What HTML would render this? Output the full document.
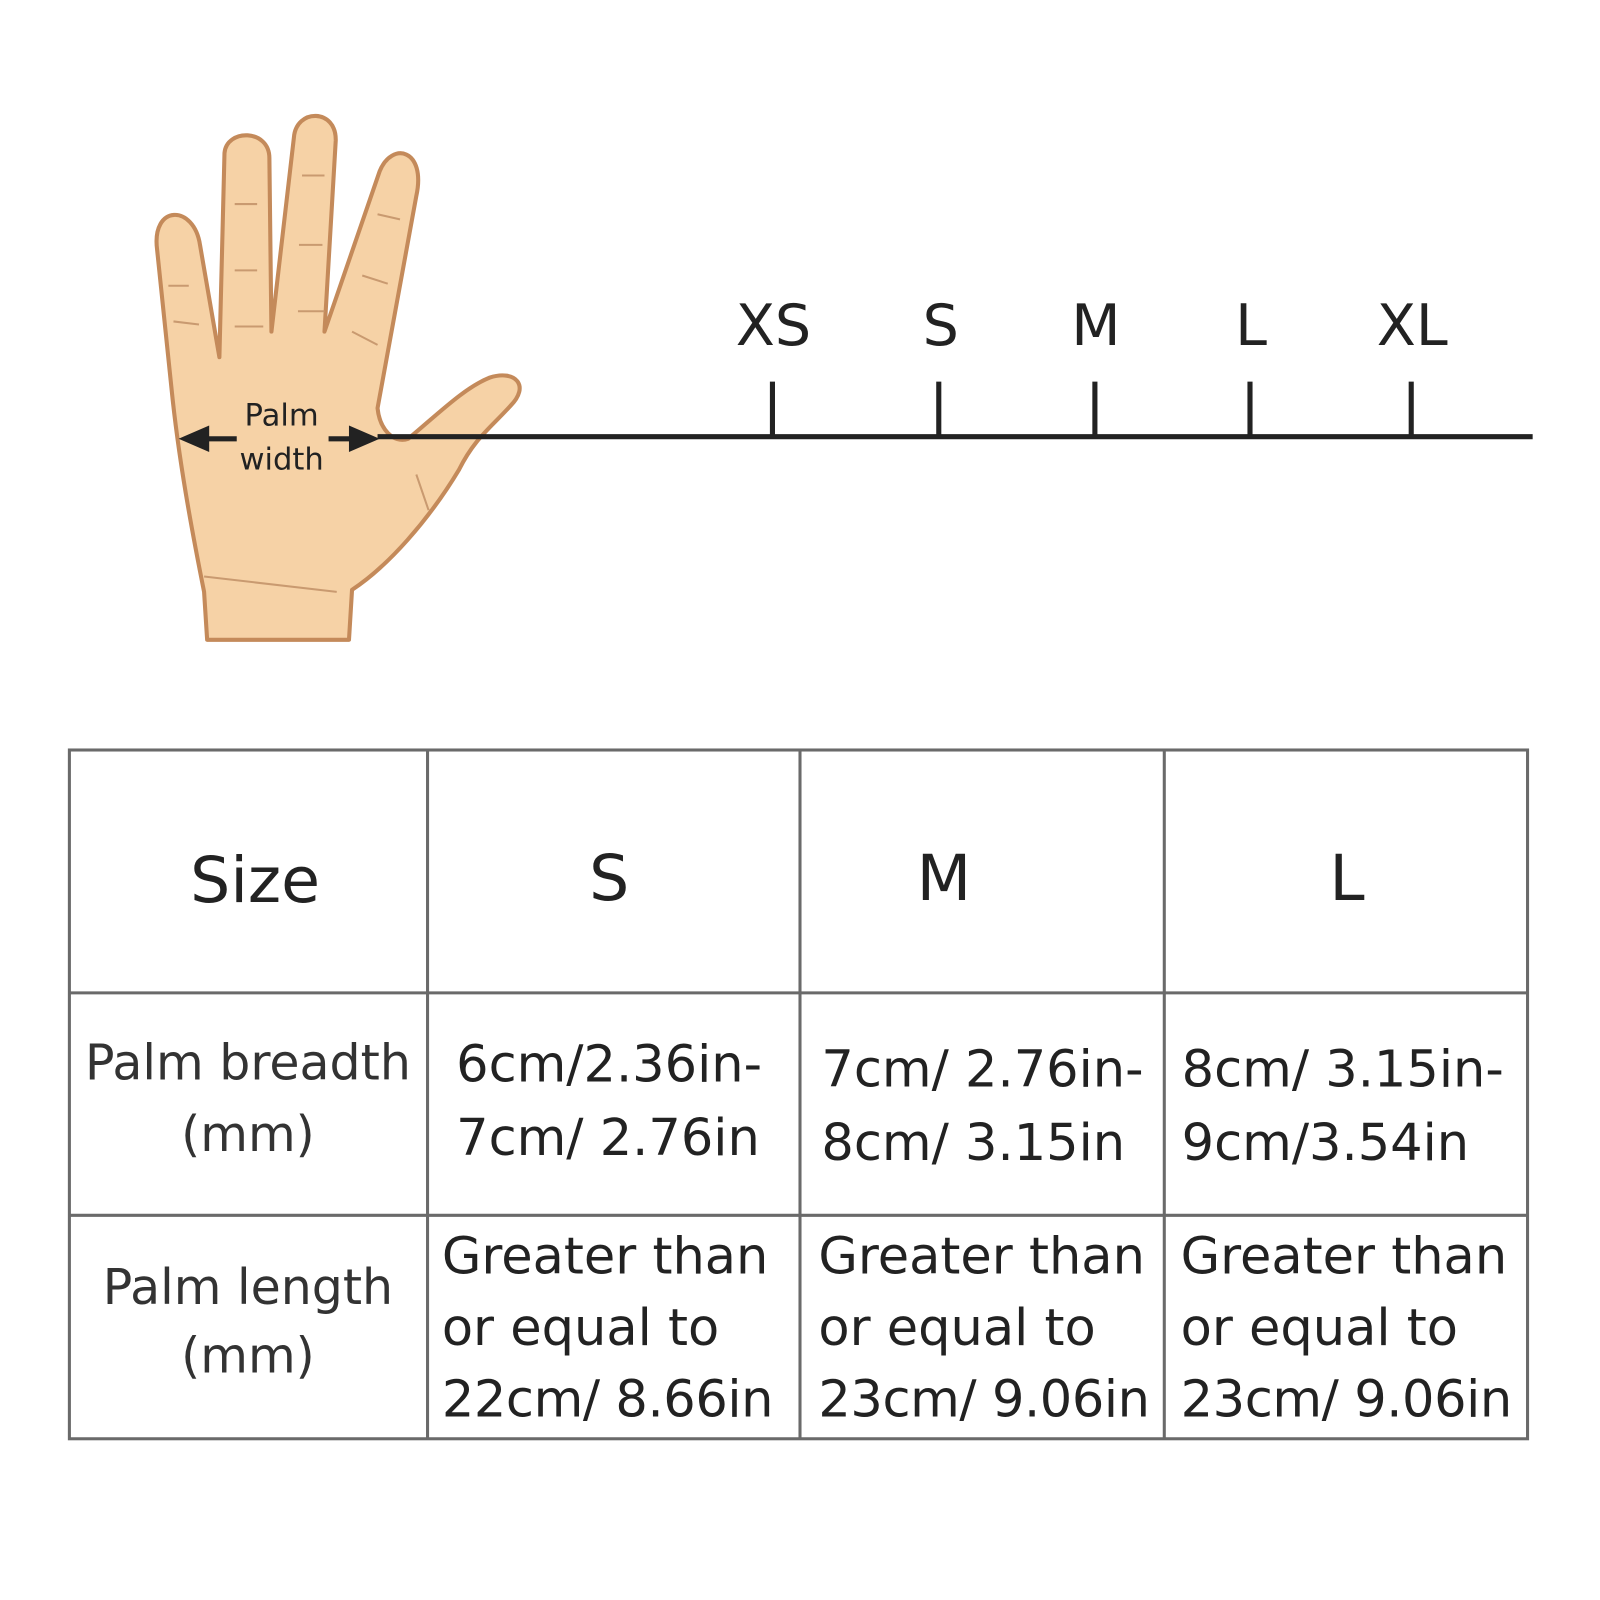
<!DOCTYPE html>
<html><head><meta charset="utf-8"><style>
html,body{margin:0;padding:0;background:#fff;}
svg{display:block;}
text{font-family:"DejaVu Sans","Liberation Sans",sans-serif;}
</style></head><body>
<svg width="1600" height="1600" viewBox="0 0 1568 1568" xmlns="http://www.w3.org/2000/svg">
<rect width="1568" height="1568" fill="#fff"/>
<!-- hand -->
<path d="M203,627 L200,580 C188,520 175,450 168,380 L154,245 C148,200 190,200 196,240 L215,350 L220,150 C222,126 264,126 264,155 L266,325 L288,135 C290,106 330,106 329,138 L318,325 L372,168 C384,138 418,146 408,192 L370,400 C372,420 385,435 400,430 C430,405 455,380 480,370 C505,362 520,378 500,398 C480,420 465,430 450,460 C420,510 380,555 345,578 L342,627 Z" fill="#f6d2a6" stroke="#c48a5a" stroke-width="4" stroke-linejoin="round"/>
<g stroke="#c99a70" stroke-width="2" fill="none">
<path d="M230,200 L252,200 M230,265 L252,265 M230,320 L258,320 M296,172 L318,172 M293,240 L316,240 M292,305 L318,305 M370,210 L392,215 M355,270 L380,278 M345,325 L370,338 M165,280 L185,280 M170,315 L195,318 M200,565 L330,580 M408,465 L420,500"/>
</g>
<!-- ruler -->
<line x1="370" y1="428" x2="1502" y2="428" stroke="#222" stroke-width="5"/>
<g stroke="#222" stroke-width="5">
<line x1="757" y1="374" x2="757" y2="428"/><line x1="920" y1="374" x2="920" y2="428"/>
<line x1="1073" y1="374" x2="1073" y2="428"/><line x1="1225" y1="374" x2="1225" y2="428"/>
<line x1="1383" y1="374" x2="1383" y2="428"/>
</g>
<g font-size="56" fill="#222" text-anchor="middle">
<text x="758" y="338">XS</text><text x="922" y="338">S</text><text x="1074" y="338">M</text><text x="1226" y="338">L</text><text x="1384" y="338">XL</text>
</g>
<!-- arrows -->
<g stroke="#222" stroke-width="5"><line x1="195" y1="430" x2="232" y2="430"/><line x1="322" y1="430" x2="355" y2="430"/></g>
<polygon points="175,430 205,417 205,443" fill="#222"/>
<polygon points="372,430 342,417 342,443" fill="#222"/>
<g font-size="30" fill="#222" text-anchor="middle"><text x="276" y="417">Palm</text><text x="276" y="460">width</text></g>
<!-- table -->
<g stroke="#6a6a6a" stroke-width="3" fill="none">
<rect x="68" y="735" width="1429" height="675"/>
<line x1="419" y1="735" x2="419" y2="1410"/><line x1="784" y1="735" x2="784" y2="1410"/><line x1="1141" y1="735" x2="1141" y2="1410"/>
<line x1="68" y1="973" x2="1497" y2="973"/><line x1="68" y1="1191" x2="1497" y2="1191"/>
</g>
<g font-size="62" fill="#222" text-anchor="middle">
<text x="250" y="884">Size</text><text x="597" y="882">S</text><text x="925" y="882">M</text><text x="1320" y="882">L</text>
</g>
<g font-size="48" fill="#333" text-anchor="middle">
<text x="243" y="1058">Palm breadth</text><text x="243" y="1128">(mm)</text>
<text x="243" y="1278">Palm length</text><text x="243" y="1345">(mm)</text>
</g>
<g font-size="50" fill="#222">
<text x="447" y="1060">6cm/2.36in-</text><text x="447" y="1132">7cm/ 2.76in</text>
<text x="805" y="1065">7cm/ 2.76in-</text><text x="805" y="1137">8cm/ 3.15in</text>
<text x="1158" y="1065">8cm/ 3.15in-</text><text x="1158" y="1137">9cm/3.54in</text>
<text x="433" y="1248">Greater than</text><text x="433" y="1318">or equal to</text><text x="433" y="1388" textLength="325">22cm/ 8.66in</text>
<text x="802" y="1248">Greater than</text><text x="802" y="1318">or equal to</text><text x="802" y="1388" textLength="325">23cm/ 9.06in</text>
<text x="1157" y="1248">Greater than</text><text x="1157" y="1318">or equal to</text><text x="1157" y="1388" textLength="325">23cm/ 9.06in</text>
</g>
</svg>
</body></html>
